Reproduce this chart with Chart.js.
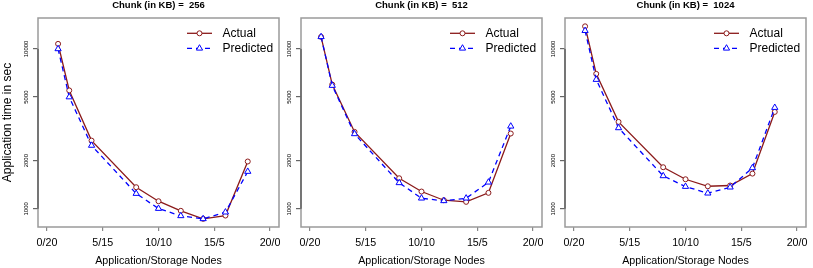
<!DOCTYPE html>
<html>
<head>
<meta charset="utf-8">
<script src="https://cdn.jsdelivr.net/npm/chart.js@4.4.1/dist/chart.umd.min.js"></script>
<style>
  html, body { margin: 0; padding: 0; background: #fff; overflow: hidden; }
  #wrap { position: relative; width: 813px; height: 268px; }
  #wrap canvas { position: absolute; top: 0; }
</style>
</head>
<body>
<div id="wrap">
  <canvas id="c256" width="292" height="268" style="left:0px"></canvas>
  <canvas id="c512" width="292" height="268" style="left:263px"></canvas>
  <canvas id="c1024" width="292" height="268" style="left:527px"></canvas>
</div>
<script>
// app/storage split: number of application nodes out of 20
var nodeCounts = [1, 2, 4, 8, 10, 12, 14, 16, 18];
var xTickValues = [0, 5, 10, 15, 20];
var xTickLabels = ['0/20', '5/15', '10/10', '15/5', '20/0'];
var yTickValues = [1000, 2000, 5000, 10000];
var chunkSizes = [256, 512, 1024];
var seriesNames = ['Actual', 'Predicted'];

var actual256 = [10750, 5500, 2670, 1365, 1116, 972, 866, 908, 1977];
var predicted256 = [10000, 5000, 2490, 1246, 1004, 904, 866, 953, 1711];
var actual512 = [11890, 5985, 3027, 1553, 1283, 1132, 1106, 1259, 2958];
var predicted512 = [11900, 5900, 2942, 1454, 1165, 1122, 1165, 1466, 3282];
var actual1024 = [13840, 6980, 3497, 1820, 1531, 1384, 1399, 1661, 4036];
var predicted1024 = [13000, 6430, 3206, 1607, 1378, 1252, 1365, 1803, 4295];

var panels = [
    { id: 'c256', actual: actual256, predicted: predicted256 },
    { id: 'c512', actual: actual512, predicted: predicted512 },
    { id: 'c1024', actual: actual1024, predicted: predicted1024 }
];

var FONT = "'Liberation Sans', Arial, Helvetica, sans-serif";
var RED = '#8B1A1A';
var BLUE = '#0000FF';

function toPoints(values) {
    return nodeCounts.map(function (n, i) { return { x: n, y: values[i] }; });
}

// gray frame plus the darker y axis line between first and last tick
var boxPlugin = {
    id: 'rBox',
    beforeDatasetsDraw: function (chart) {
        var ctx = chart.ctx, a = chart.chartArea;
        var ys = chart.scales.y;
        ctx.save();
        ctx.strokeStyle = '#9a9a9a';
        ctx.lineWidth = 1.5;
        ctx.strokeRect(a.left, a.top, a.right - a.left, a.bottom - a.top);
        ctx.strokeStyle = '#555';
        ctx.lineWidth = 1.3;
        ctx.beginPath();
        ctx.moveTo(a.left, ys.getPixelForValue(yTickValues[0]));
        ctx.lineTo(a.left, ys.getPixelForValue(yTickValues[yTickValues.length - 1]));
        ctx.stroke();
        ctx.restore();
    }
};

// R style legend: short line segment with the marker in the middle
var legendPlugin = {
    id: 'rLegend',
    afterDatasetsDraw: function (chart) {
        var ctx = chart.ctx, a = chart.chartArea;
        chart.data.datasets.forEach(function (ds, i) {
            var y = a.top + 15.3 + i * 15;
            var x0 = a.right - 92, x1 = a.right - 67;
            ctx.save();
            ctx.strokeStyle = ds.borderColor;
            ctx.lineWidth = ds.borderWidth;
            ctx.setLineDash(ds.borderDash || []);
            ctx.beginPath();
            ctx.moveTo(x0, y);
            ctx.lineTo(x1, y);
            ctx.stroke();
            ctx.setLineDash([]);
            ctx.fillStyle = '#fff';
            ctx.lineWidth = 1;
            Chart.helpers.drawPoint(ctx, { pointStyle: ds.pointStyle, radius: ds.pointRadius, borderWidth: 1, rotation: 0 }, (x0 + x1) / 2, y);
            ctx.fillStyle = '#000';
            ctx.font = '12px ' + FONT;
            ctx.textBaseline = 'middle';
            ctx.textAlign = 'left';
            ctx.fillText(ds.label, a.right - 56.5, y);
            ctx.restore();
        });
    }
};

panels.forEach(function (p, idx) {
    var ctx = document.getElementById(p.id).getContext('2d');
    new Chart(ctx, {
        type: 'line',
        data: {
            datasets: [
                {
                    label: seriesNames[0],
                    data: toPoints(p.actual),
                    borderColor: RED,
                    backgroundColor: '#fff',
                    borderWidth: 1.3,
                    pointStyle: 'circle',
                    pointRadius: 2.5,
                    pointBorderWidth: 1,
                    tension: 0,
                    order: 1
                },
                {
                    label: seriesNames[1],
                    data: toPoints(p.predicted),
                    borderColor: BLUE,
                    backgroundColor: '#fff',
                    borderWidth: 1.3,
                    borderDash: [5, 4],
                    pointStyle: 'triangle',
                    pointRadius: 3.6,
                    pointBorderWidth: 1,
                    tension: 0,
                    order: 0
                }
            ]
        },
        options: {
            responsive: false,
            animation: false,
            devicePixelRatio: 1,
            layout: { padding: { left: 0, right: 13, top: 0, bottom: 0 } },
            plugins: {
                legend: { display: false },
                tooltip: { enabled: false },
                title: {
                    display: true,
                    text: 'Chunk (in KB) =  ' + chunkSizes[idx],
                    color: '#000',
                    fullSize: false,
                    font: { family: FONT, size: 9.5, weight: 'bold' },
                    padding: { top: 0, bottom: 6.6 }
                }
            },
            scales: {
                x: {
                    type: 'linear',
                    min: -0.8,
                    max: 20.8,
                    afterBuildTicks: function (scale) {
                        scale.ticks = xTickValues.map(function (v) { return { value: v }; });
                    },
                    afterFit: function (scale) { scale.height = 41; },
                    grid: { drawOnChartArea: false, drawTicks: true, tickLength: 4, color: '#888', lineWidth: 1.2 },
                    border: { display: false },
                    ticks: {
                        autoSkip: false,
                        maxRotation: 0,
                        padding: 6,
                        color: '#000',
                        font: { family: FONT, size: 10.7 },
                        callback: function (v) {
                            var k = xTickValues.indexOf(v);
                            return k >= 0 ? xTickLabels[k] : '';
                        }
                    },
                    title: {
                        display: true,
                        text: 'Application/Storage Nodes',
                        color: '#000',
                        font: { family: FONT, size: 10.7 },
                        padding: { top: 0, bottom: 1 }
                    }
                },
                y: {
                    type: 'logarithmic',
                    min: 770,
                    max: 15600,
                    afterBuildTicks: function (scale) {
                        scale.ticks = yTickValues.map(function (v) { return { value: v }; });
                    },
                    afterFit: function (scale) { scale.width = 38; },
                    grid: { drawOnChartArea: false, drawTicks: true, tickLength: 5, color: '#666', lineWidth: 1.2 },
                    border: { display: false },
                    ticks: {
                        minRotation: 90,
                        maxRotation: 90,
                        crossAlign: 'center',
                        padding: -1.3,
                        color: '#000',
                        font: { family: FONT, size: 6 },
                        callback: function (v) { return String(v); }
                    },
                    title: {
                        display: idx === 0,
                        text: 'Application time in sec',
                        color: '#000',
                        font: { family: FONT, size: 12 },
                        padding: 0
                    }
                }
            }
        },
        plugins: [boxPlugin, legendPlugin]
    });
});
</script>
</body>
</html>
